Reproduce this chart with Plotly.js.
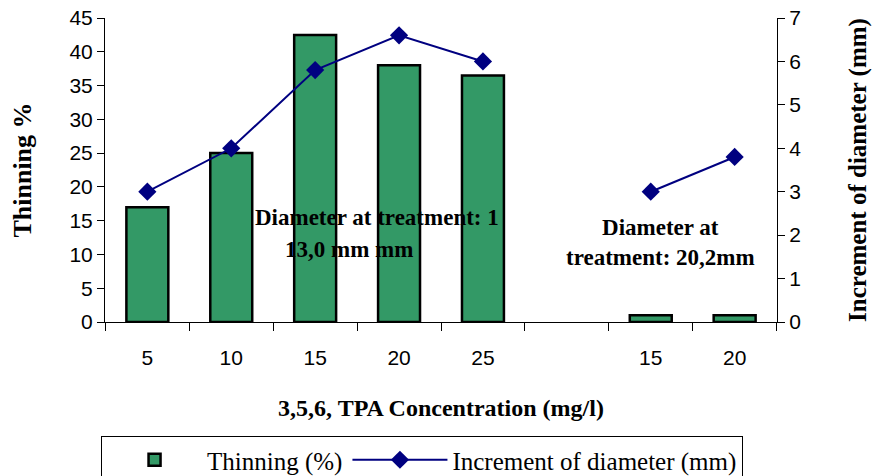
<!DOCTYPE html>
<html>
<head>
<meta charset="utf-8">
<script src="https://cdn.plot.ly/plotly-3.0.1.min.js"></script>
<style>html,body{margin:0;padding:0;background:#fff;}#chart{width:872px;height:476px;}</style>
</head>
<body>
<div id="chart"></div>
<script>
// Data
var categoryKeys = ["5", "10", "15", "20", "25", "gap", "15b", "20b"];
var categoryLabels = ["5", "10", "15", "20", "25", "", "15", "20"];
var thinning = [17, 25, 42.5, 38, 36.5, null, 1, 1];
var increment = [3, 4, 5.8, 6.6, 6.0, null, 3, 3.8];
var leftTicks = [0, 5, 10, 15, 20, 25, 30, 35, 40, 45];
var rightTicks = [0, 1, 2, 3, 4, 5, 6, 7];

var serif = "Liberation Serif";
var sans = "Liberation Sans";

var traces = [
  {
    type: "bar",
    name: "Thinning (%)",
    x: categoryKeys,
    y: thinning,
    yaxis: "y",
    width: 0.5,
    marker: {color: "#339966", line: {color: "#000000", width: 2.5}}
  },
  {
    type: "scatter",
    mode: "lines+markers",
    name: "Increment of diameter (mm)",
    x: categoryKeys,
    y: increment,
    yaxis: "y2",
    connectgaps: false,
    line: {color: "#000080", width: 2},
    marker: {symbol: "diamond", size: 14, color: "#000080"}
  }
];

var layout = {
  width: 872,
  height: 476,
  margin: {l: 105, r: 95, t: 18, b: 154},
  paper_bgcolor: "#ffffff",
  plot_bgcolor: "#ffffff",
  font: {family: serif, color: "#000"},
  showlegend: true,
  xaxis: {
    type: "category",
    automargin: false,
    categoryorder: "array",
    categoryarray: categoryKeys,
    tickvals: categoryKeys,
    ticktext: categoryLabels,
    tickson: "boundaries",
    ticks: "outside",
    ticklen: 8,
    tickcolor: "#000",
    ticklabelstandoff: 17,
    showgrid: false,
    zeroline: false,
    showline: true,
    linecolor: "#000",
    linewidth: 1,
    tickfont: {family: sans, size: 21, color: "#000"},
    title: {text: "3,5,6, TPA Concentration (mg/l)", font: {family: serif, size: 24, color: "#000", weight: "bold"}, standoff: 30}
  },
  yaxis: {
    range: [0, 45],
    automargin: false,
    tickvals: leftTicks,
    ticks: "outside",
    ticklen: 7,
    tickcolor: "#000",
    showgrid: false,
    zeroline: false,
    showline: true,
    linecolor: "#000",
    linewidth: 1,
    tickfont: {family: sans, size: 21, color: "#000"},
    title: {text: "Thinning %", font: {family: serif, size: 26, color: "#000", weight: "bold"}, standoff: 30}
  },
  yaxis2: {
    range: [0, 7],
    automargin: false,
    tickvals: rightTicks,
    overlaying: "y",
    side: "right",
    ticks: "outside",
    ticklen: 7,
    tickcolor: "#000",
    showgrid: false,
    zeroline: false,
    showline: true,
    linecolor: "#000",
    linewidth: 1,
    tickfont: {family: sans, size: 21, color: "#000"},
    title: {text: "Increment of diameter (mm)", font: {family: serif, size: 25, color: "#000", weight: "bold"}, standoff: 48}
  },
  legend: {
    orientation: "h",
    xref: "container",
    yref: "container",
    x: 0.484,
    xanchor: "center",
    y: 0.084,
    yanchor: "top",
    bordercolor: "#000",
    borderwidth: 1,
    itemwidth: 95,
    font: {family: serif, size: 25, color: "#000"}
  },
  annotations: [
    {xref: "paper", yref: "paper", x: 0.220, y: 0.345, xanchor: "left", yanchor: "middle", showarrow: false,
     text: "Diameter at treatment: 1", font: {family: serif, size: 23, color: "#000", weight: "bold"}},
    {xref: "paper", yref: "paper", x: 0.265, y: 0.237, xanchor: "left", yanchor: "middle", showarrow: false,
     text: "13,0 mm mm", font: {family: serif, size: 23, color: "#000", weight: "bold"}},
    {xref: "paper", yref: "paper", x: 0.826, y: 0.26, xanchor: "center", yanchor: "middle", showarrow: false,
     text: "Diameter at<br>treatment: 20,2mm", font: {family: serif, size: 23, color: "#000", weight: "bold"}}
  ]
};

Plotly.newPlot("chart", traces, layout, {displayModeBar: false, staticPlot: true});
</script>
</body>
</html>
